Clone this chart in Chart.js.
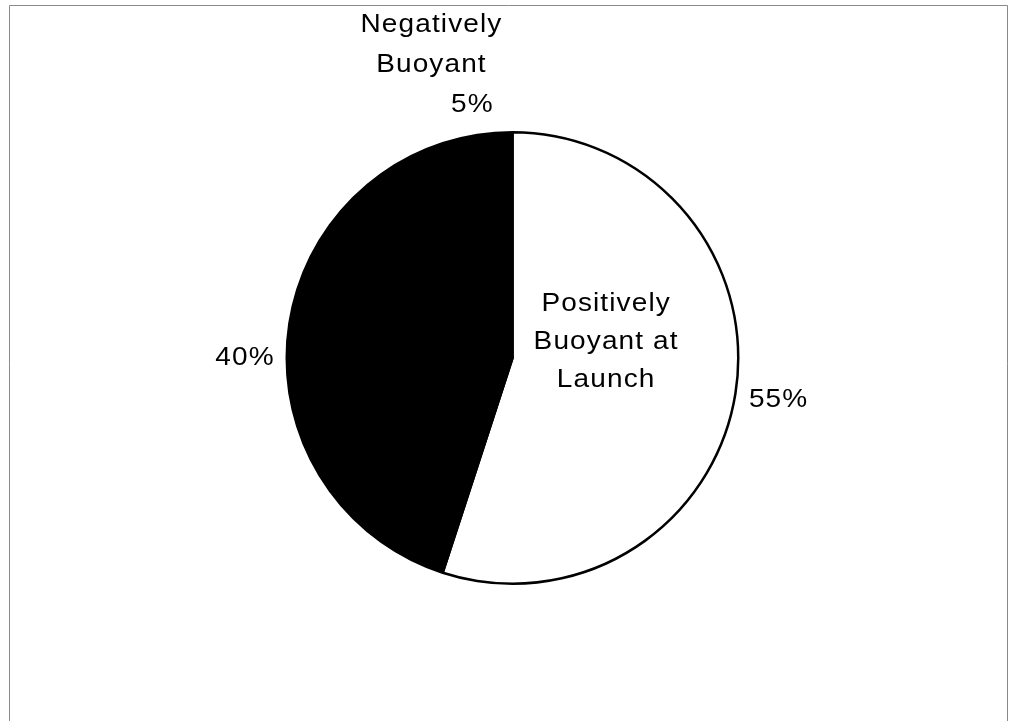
<!DOCTYPE html>
<html>
<head>
<meta charset="utf-8">
<script src="https://cdn.jsdelivr.net/npm/chart.js@4.4.1/dist/chart.umd.min.js"></script>
<style>
    html, body { margin: 0; padding: 0; background: #ffffff; }
    #wrap { width: 1013px; height: 721px; }
</style>
</head>
<body>
<div id="wrap"><canvas id="pieChart"></canvas></div>
<script>
// Chart data (clockwise from 12 o'clock)
var categories = ["Positively Buoyant at Launch", "", "Negatively Buoyant"];
var nameLines = [["Positively", "Buoyant at", "Launch"], [], ["Negatively", "Buoyant"]];
var shares = [55, 40, 5];
var sliceColors = ["#ffffff", "#000000", "#000000"];

var labelFont = "25px 'Liberation Sans', Arial, sans-serif";
var stretchX = 1.12;  // the original lettering is a bit wide

// Thin grey frame around the plot, like the scanned original
var framePlugin = {
    id: "frame",
    beforeDraw: function (chart) {
        var c = chart.ctx;
        c.save();
        c.strokeStyle = "#8a8a8a";
        c.lineWidth = 1;
        c.beginPath();
        c.moveTo(9.5, 721);
        c.lineTo(9.5, 5.5);
        c.lineTo(1007.5, 5.5);
        c.lineTo(1007.5, 721);
        c.stroke();
        c.restore();
    }
};

function wideText(c, text, x, y) {
    c.save();
    c.translate(x, y);
    c.scale(stretchX, 1);
    c.fillText(text, 0, 0);
    c.restore();
}

// Percent labels outside each slice, category names where the original puts them
var sliceLabels = {
    id: "sliceLabels",
    afterDatasetsDraw: function (chart) {
        var c = chart.ctx;
        var arcs = chart.getDatasetMeta(0).data;
        c.save();
        c.font = labelFont;
        c.letterSpacing = "1px";
        c.fillStyle = "#000000";
        c.textAlign = "center";
        c.textBaseline = "middle";
        arcs.forEach(function (arc, i) {
            var mid = (arc.startAngle + arc.endAngle) / 2;
            var r = arc.outerRadius;
            var text = shares[i] + "%";
            var w = c.measureText(text).width * stretchX;
            var h = 30;
            var d = r + 12 + Math.abs(Math.cos(mid)) * w / 2 + Math.abs(Math.sin(mid)) * h / 2;
            var px = arc.x + Math.cos(mid) * d;
            var py = arc.y + Math.sin(mid) * d;
            wideText(c, text, px, py);

            var lines = nameLines[i];
            if (!lines.length) return;
            if (i === 0) {
                // name sits inside the big white slice
                var cx = arc.x + Math.cos(mid) * r * 0.42;
                var cy = arc.y + Math.sin(mid) * r * 0.42 - 31;
                lines.forEach(function (line, k) {
                    wideText(c, line, cx, cy + (k - (lines.length - 1) / 2) * 38);
                });
            } else {
                // name stacked above its percent
                lines.forEach(function (line, k) {
                    wideText(c, line, px - 41, py - (lines.length - k) * 40);
                });
            }
        });
        c.restore();
    }
};

var ctx = document.getElementById("pieChart").getContext("2d");

var pieChart = new Chart(ctx, {
    type: "pie",
    data: {
        labels: categories,
        datasets: [{
            data: shares,
            backgroundColor: sliceColors,
            borderColor: "#000000",
            borderWidth: 2.5
        }]
    },
    options: {
        responsive: true,
        maintainAspectRatio: false,
        animation: false,
        layout: {
            padding: { top: 131, bottom: 136, left: 12, right: 0 }
        },
        plugins: {
            legend: { display: false },
            tooltip: { enabled: false }
        }
    },
    plugins: [framePlugin, sliceLabels]
});
</script>
</body>
</html>
